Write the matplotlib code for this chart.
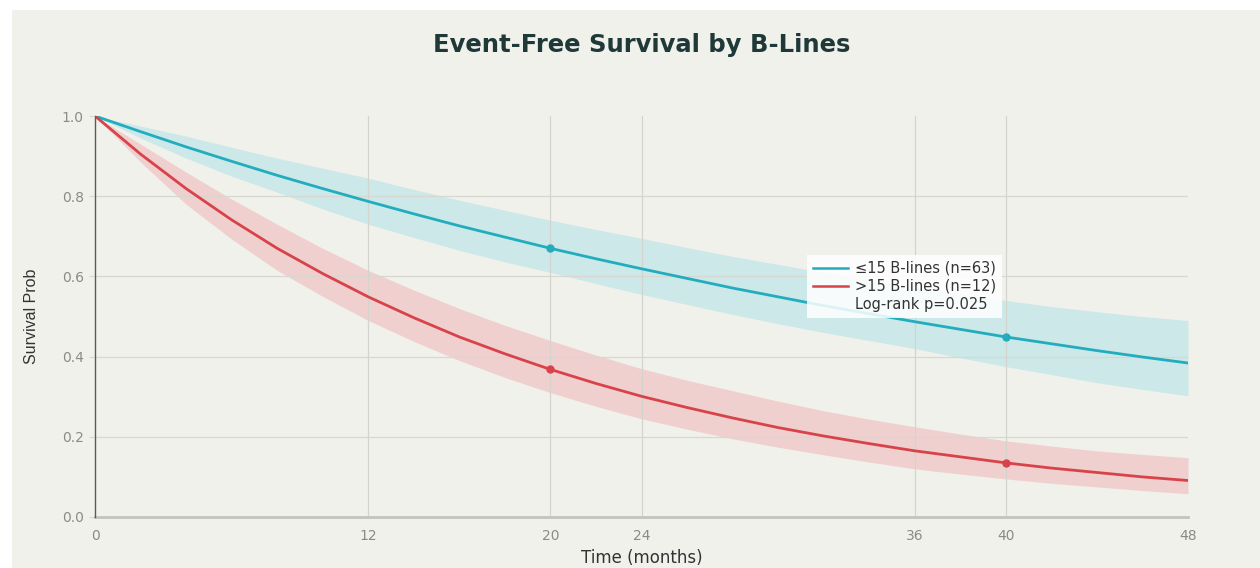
import numpy as np
import matplotlib
matplotlib.use("Agg")
import matplotlib.pyplot as plt
from matplotlib.patches import Rectangle
from matplotlib.lines import Line2D

# Data (every 2 months)
months = [0, 2, 4, 6, 8, 10, 12, 14, 16, 18, 20, 22, 24,
          26, 28, 30, 32, 34, 36, 38, 40, 42, 44, 46, 48]

low_surv = [1.000, 0.961, 0.923, 0.887, 0.852, 0.819, 0.787, 0.756, 0.726, 0.698, 0.670, 0.644, 0.619,
            0.595, 0.571, 0.549, 0.527, 0.507, 0.487, 0.468, 0.449, 0.432, 0.415, 0.399, 0.384]
low_upper = [1.000, 0.975, 0.950, 0.922, 0.895, 0.870, 0.845, 0.817, 0.790, 0.765, 0.740, 0.717, 0.695,
             0.672, 0.650, 0.630, 0.610, 0.590, 0.572, 0.556, 0.540, 0.525, 0.512, 0.500, 0.490]
low_lower = [1.000, 0.945, 0.895, 0.850, 0.810, 0.768, 0.730, 0.697, 0.665, 0.636, 0.610, 0.582, 0.555,
             0.530, 0.505, 0.482, 0.460, 0.440, 0.420, 0.397, 0.375, 0.355, 0.335, 0.318, 0.302]

high_surv = [1.000, 0.905, 0.819, 0.741, 0.670, 0.607, 0.549, 0.497, 0.449, 0.407, 0.368, 0.333, 0.301,
             0.273, 0.247, 0.223, 0.202, 0.183, 0.165, 0.150, 0.135, 0.122, 0.111, 0.100, 0.091]
high_upper = [1.000, 0.930, 0.860, 0.793, 0.730, 0.670, 0.615, 0.566, 0.520, 0.478, 0.440, 0.404, 0.370,
              0.341, 0.315, 0.289, 0.265, 0.244, 0.225, 0.207, 0.190, 0.177, 0.165, 0.156, 0.148]
high_lower = [1.000, 0.885, 0.780, 0.693, 0.615, 0.550, 0.490, 0.438, 0.390, 0.348, 0.310, 0.276, 0.245,
              0.219, 0.195, 0.174, 0.155, 0.137, 0.120, 0.107, 0.095, 0.084, 0.075, 0.066, 0.058]

marker_months = [20, 40]
x_ticks = [0, 12, 20, 24, 36, 40, 48]
y_ticks = [0.0, 0.2, 0.4, 0.6, 0.8, 1.0]

labels = ["\u226415 B-lines (n=63)", ">15 B-lines (n=12)", "Log-rank p=0.025"]

BG = "#f1f1ec"
BLUE = "#22adbe"
RED = "#d8434a"
TICK = "#8a8a8a"


def main():
    plt.rcParams['font.family'] = ['DejaVu Sans']

    fig = plt.figure(figsize=(12.6, 5.68), dpi=100, facecolor="white")
    # off-white panel, leaving a thin white strip top and left
    fig.patches.append(Rectangle((12 / 1260, 0), 1, 1 - 10 / 568,
                                 transform=fig.transFigure, facecolor=BG,
                                 edgecolor="none", zorder=-10))

    ax = fig.add_axes([95 / 1260, 1 - 517 / 568, 1093 / 1260, 401 / 568])
    ax.set_facecolor(BG)

    t = np.array(months)

    # confidence bands
    ax.fill_between(t, low_lower, low_upper, color="#7fd6e2", alpha=0.32, lw=0, zorder=1)
    ax.fill_between(t, high_lower, high_upper, color="#ef8a94", alpha=0.32, lw=0, zorder=1)

    for v in y_ticks[1:-1]:
        ax.axhline(v, color="#d8d8d3", lw=0.9, zorder=1.5)
    for v in x_ticks[1:-1]:
        ax.axvline(v, color="#d4d4cf", lw=0.9, zorder=1.5)

    ax.plot(t, low_surv, color=BLUE, lw=2, zorder=3)
    ax.plot(t, high_surv, color=RED, lw=2, zorder=3)

    idx = [months.index(m) for m in marker_months]
    ax.plot(t[idx], np.array(low_surv)[idx], "o", color=BLUE, ms=5, zorder=4)
    ax.plot(t[idx], np.array(high_surv)[idx], "o", color=RED, ms=5, zorder=4)

    ax.set_xlim(0, 48)
    ax.set_ylim(0, 1.0)
    ax.set_xticks(x_ticks)
    ax.set_yticks(y_ticks)
    ax.set_yticklabels(["%.1f" % v for v in y_ticks])

    for s in ["top", "right"]:
        ax.spines[s].set_visible(False)
    ax.spines["left"].set_color("#5a5a5a")
    ax.spines["left"].set_linewidth(1.0)
    ax.spines["bottom"].set_color("#c4c4bf")
    ax.spines["bottom"].set_linewidth(2.0)
    ax.spines["left"].set_zorder(5)

    ax.tick_params(axis="x", length=0, pad=9, colors=TICK, labelsize=10)
    ax.tick_params(axis="y", length=4, width=0.8, color="#d8d8d3", pad=4,
                   colors=TICK, labelsize=10)

    ax.set_xlabel("Time (months)", fontsize=12, color="#333333")
    ax.xaxis.set_label_coords(0.5, -(558 - 517) / 401)
    ax.xaxis.label.set_va("center")
    ax.set_ylabel("Survival Prob", fontsize=11.5, color="#333333",
                  family=["Liberation Sans Narrow", "Liberation Sans"])
    ax.yaxis.set_label_coords((32 - 95) / 1093, 0.5)
    ax.yaxis.label.set_va("center")

    fig.text(642 / 1260, 1 - 45 / 568, "Event-Free Survival by B-Lines",
             ha="center", va="center", fontsize=17.5, fontweight="bold",
             color="#1f3838")

    handles = [Line2D([], [], color=BLUE, lw=1.8),
               Line2D([], [], color=RED, lw=1.8),
               Line2D([], [], color="none")]
    leg = ax.legend(handles, labels, loc="upper left",
                    bbox_to_anchor=((807 - 95) / 1093, (517 - 255) / 401),
                    fontsize=10.5, frameon=True, fancybox=False,
                    handlelength=2.4, handletextpad=0.5, labelspacing=0.2,
                    borderpad=0.4, borderaxespad=0)
    leg.get_frame().set_facecolor("white")
    leg.get_frame().set_edgecolor("none")
    leg.get_frame().set_alpha(0.85)
    leg.set_zorder(6)
    for txt in leg.get_texts():
        txt.set_color("#333333")

    fig.savefig("out.png", dpi=100, facecolor=fig.get_facecolor())


if __name__ == "__main__":
    main()
